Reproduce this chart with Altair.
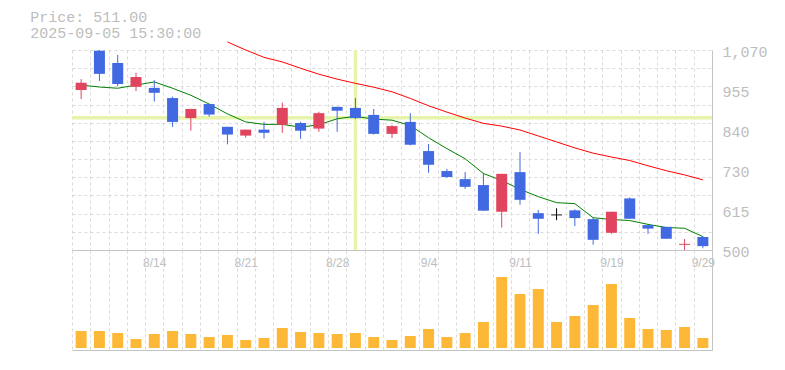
import json
import altair as alt
import pandas as pd

# ---------------- data ----------------
title_lines = ["Price: 511.00", "2025-09-05 15:30:00"]

dates = ["8/7", "8/8", "8/12", "8/13", "8/14", "8/15", "8/18", "8/19", "8/20", "8/21",
         "8/22", "8/25", "8/26", "8/27", "8/28", "8/29", "9/1", "9/2", "9/3", "9/4",
         "9/5", "9/8", "9/9", "9/10", "9/11", "9/12", "9/16", "9/17", "9/18", "9/19",
         "9/22", "9/24", "9/25", "9/26", "9/29"]
label_dates = ["8/14", "8/21", "8/28", "9/4", "9/11", "9/19", "9/29"]

opens = [956, 1068, 1033, 965, 962, 933, 876, 916, 851, 826,
         843, 857, 862, 846, 908, 905, 885, 831, 865, 782,
         725, 702, 685, 609, 722, 605, 600, 613, 588, 549,
         647, 571, 566, 515, 537]
highs = [987, 1070, 1056, 1005, 984, 937, 902, 916, 851, 843,
         865, 920, 865, 894, 908, 933, 902, 856, 890, 802,
         731, 722, 720, 717, 779, 614, 619, 616, 593, 609,
         650, 571, 566, 531, 540]
lows = [930, 982, 967, 953, 923, 851, 840, 880, 801, 820,
        818, 834, 817, 837, 837, 873, 829, 819, 798, 720,
        706, 674, 612, 564, 629, 546, 585, 568, 515, 546,
        589, 546, 532, 500, 505]
closes = [977, 1002, 973, 993, 948, 865, 902, 886, 829, 843,
          834, 905, 840, 890, 897, 876, 831, 853, 800, 743,
          708, 680, 612, 717, 643, 589, 600, 591, 529, 609,
          589, 561, 532, 516, 511]

ma_short = [970, 964.5, 961, 970, 979, 961, 941, 916, 888, 865,
            858, 858, 850, 857, 874, 881, 873, 870, 855, 820,
            789, 760, 718, 698, 673, 652, 635, 632, 592, 587,
            584, 573, 564, 562, 538]
ma_long_dates = dates[8:]
ma_long = [1093, 1070, 1049, 1036, 1018, 1001, 987, 975, 964, 951,
           932, 911, 893, 876, 861, 853, 842, 825, 808, 791,
           776, 765, 755, 740, 726, 714, 700]

volumes = [170, 170, 150, 90, 140, 170, 140, 110, 130, 80,
           100, 200, 160, 150, 140, 150, 110, 80, 120, 190,
           110, 150, 260, 710, 540, 590, 260, 320, 430, 640,
           300, 190, 180, 210, 100]

price_min, price_max = 500, 1070
label_count = 6
grid_count = 12
vol_domain = [-20, 980]

cross_date = "8/29"
cross_price = 877

# ---------------- styles ----------------
UP = "#E0445E"
DOWN = "#4169E1"
FLAT = "#000000"
GRID = "#d9d9d9"
AXISC = "#c4c4c4"
TXT = "#bdbdbd"
MONO = "Liberation Mono"

df = pd.DataFrame({"date": dates, "open": opens, "high": highs, "low": lows,
                   "close": closes, "ma5": ma_short, "vol": volumes})
df["dir"] = ["up" if c > o else ("down" if c < o else "flat") for o, c in zip(opens, closes)]
df_long = pd.DataFrame({"date": ma_long_dates, "ma25": ma_long})
df_cross = pd.DataFrame({"date": [cross_date], "price": [cross_price]})

xscale = alt.Scale(type="band", domain=dates, paddingInner=0, paddingOuter=0)
label_expr = "indexof(%s, datum.label) >= 0 ? datum.label : ''" % json.dumps(label_dates)

x_price = alt.X("date:O", scale=xscale, title=None,
                axis=alt.Axis(grid=True, gridColor=GRID, gridDash=[3, 3], tickBand="extent",
                              ticks=False, domain=True, domainColor=AXISC, labelAngle=0,
                              labelExpr=label_expr, labelFont="Liberation Sans", labelFontSize=12,
                              labelColor=TXT, labelPadding=7))
x_vol = alt.X("date:O", scale=xscale, title=None,
              axis=alt.Axis(grid=True, gridColor=GRID, gridDash=[3, 3], tickBand="extent",
                            ticks=False, labels=False, domain=True, domainColor=AXISC))

yscale = alt.Scale(domain=[price_min, price_max], nice=False, zero=False)
grid_vals = [price_min + k * (price_max - price_min) / (grid_count - 1) for k in range(grid_count)]
label_vals = [price_min + k * (price_max - price_min) / (label_count - 1) for k in range(label_count)]

y_grid_axis = alt.Axis(orient="left", values=grid_vals, grid=True, gridColor=GRID, gridDash=[3, 3],
                       labels=False, ticks=False, domain=False)
y_label_axis = alt.Axis(orient="right", values=label_vals, grid=False, ticks=False, domain=True,
                        domainColor=AXISC, labelExpr="format(round(datum.value/5)*5, ',')",
                        labelFont=MONO, labelFontSize=15, labelColor=TXT, labelPadding=10,
                        labelBaseline="middle", labelOffset=1.5)

color = alt.Color("dir:N", scale=alt.Scale(domain=["up", "down", "flat"], range=[UP, DOWN, FLAT]),
                  legend=None)

base = alt.Chart(df)

hline = alt.Chart(df_cross).mark_rule(color="#E6F5AA", strokeWidth=3.5).encode(
    y=alt.Y("price:Q", scale=yscale, axis=y_grid_axis, title=None))
vline = alt.Chart(df_cross).mark_rule(color="#E6F5AA", strokeWidth=3.5).encode(x=x_price)

line5 = base.mark_line(color="#008000", strokeWidth=1).encode(
    x=x_price, y=alt.Y("ma5:Q", scale=yscale, axis=None))
line25 = alt.Chart(df_long).mark_line(color="#FF0000", strokeWidth=1).encode(
    x=x_price, y=alt.Y("ma25:Q", scale=yscale, axis=None))

wick = base.mark_rule(strokeWidth=1).encode(
    x=x_price, y=alt.Y("low:Q", scale=yscale, axis=None), y2="high:Q", color=color)
body = base.mark_bar(size=11).encode(
    x=x_price, y=alt.Y("open:Q", scale=yscale, axis=y_label_axis, title=None), y2="close:Q",
    color=color)
doji = base.transform_filter("abs(datum.open - datum.close) < 3").mark_tick(
    size=11, thickness=1.2, orient="horizontal").encode(
    x=x_price, y=alt.Y("close:Q", scale=yscale, axis=None), color=color)

price = alt.layer(hline, vline, line5, line25, wick, body, doji).resolve_axis(
    y="independent").properties(width=640, height=200)

vol = base.mark_bar(size=11, color="#FDB838").encode(
    x=x_vol,
    y=alt.Y("vol:Q", scale=alt.Scale(domain=vol_domain, nice=False, zero=False),
            axis=alt.Axis(orient="right", labels=False, ticks=False, grid=False, domain=True,
                          domainColor=AXISC), title=None)
).properties(width=640, height=100)

chart = alt.vconcat(price, vol, spacing=0, bounds="flush").properties(
    title=alt.TitleParams(text=title_lines, anchor="start", font=MONO, fontSize=15,
                          fontWeight="normal", color=TXT, dx=-40, offset=-1, lineHeight=16),
    padding={"left": 22, "top": 1, "right": 5, "bottom": 5}
).configure_view(stroke=None)

chart.save("out.html", embed_options={"renderer": "svg", "actions": False})
